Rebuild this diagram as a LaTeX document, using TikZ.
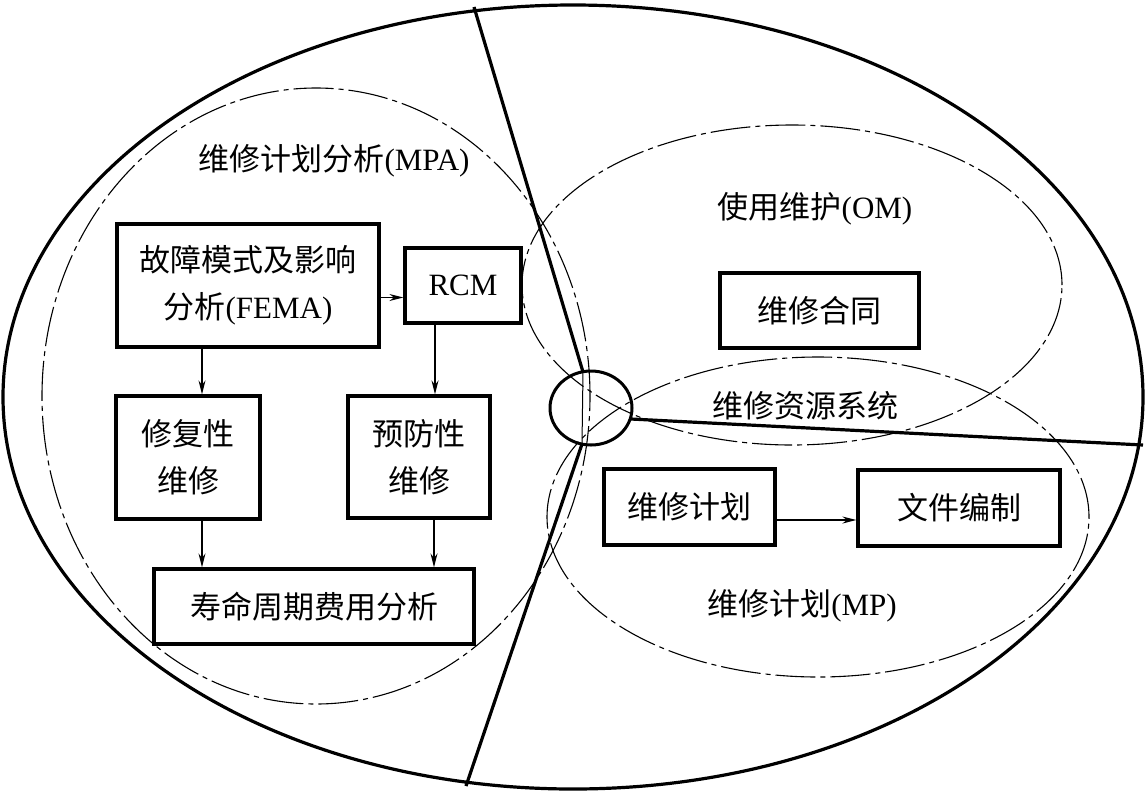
\documentclass[tikz,border=0pt]{standalone}
\usepackage{fontspec}
\setmainfont{Liberation Serif}
\newfontfamily\cjk{Noto Sans CJK SC}
\usetikzlibrary{arrows.meta}
\newcommand\zh[1]{{\cjk #1}}
\begin{document}
\begin{tikzpicture}[x=1pt,y=-1pt,
  box/.style={draw,line width=3.2pt,inner sep=0pt,align=center,font=\fontsize{31}{47}\selectfont},
  lbl/.style={inner sep=0pt,font=\fontsize{31}{47}\selectfont},
  conn/.style={line width=1.2pt,-{Stealth[length=14pt,width=7pt]}},
  region/.style={line width=1.1pt,dash pattern=on 40pt off 5pt on 5pt off 5pt},
  thick line/.style={line width=3.2pt},
  rim/.style={line width=3.2pt}]
\useasboundingbox (0,0) rectangle (1147,793);
% outer ellipse
\draw[rim] (573,397) ellipse [x radius=570pt, y radius=392pt];
% dash-dot regions
\draw[region] (316,396) ellipse [x radius=274pt, y radius=308pt];
\draw[region] (792,285) ellipse [x radius=270pt, y radius=160pt];
\draw[region] (818,517) ellipse [x radius=271pt, y radius=160pt];
% small circle
\draw[line width=3pt] (591,408) ellipse [x radius=41pt, y radius=37pt];
% separating lines
\coordinate (topA) at (474,7);
\coordinate (topB) at (583,372);
\coordinate (botA) at (582,444);
\coordinate (botB) at (466,786);
\coordinate (rA) at (631,419);
\coordinate (rB) at (1143,445);
\draw[thick line] (topA) -- (topB);
\draw[line width=1pt] (topB) -- (botA);
\draw[thick line] (botA) -- (botB);
\draw[thick line] (rA) -- (rB);
% boxes
\node[box,minimum width=262pt,minimum height=123pt] (fema) at (248,285.5) {\zh{故障模式及影响}\\\zh{分析}(FEMA)};
\node[box,minimum width=116pt,minimum height=75pt] (rcm) at (463,285.5) {RCM};
\node[box,minimum width=144pt,minimum height=123pt] (repair) at (188,457.5) {\zh{修复性}\\\zh{维修}};
\node[box,minimum width=142pt,minimum height=122pt] (prev) at (419,457) {\zh{预防性}\\\zh{维修}};
\node[box,minimum width=320pt,minimum height=75pt] (life) at (314,606.5) {\zh{寿命周期费用分析}};
\node[box,minimum width=199pt,minimum height=75pt] (contract) at (819.5,310.5) {\zh{维修合同}};
\node[box,minimum width=171pt,minimum height=76pt] (plan) at (689.5,507) {\zh{维修计划}};
\node[box,minimum width=202pt,minimum height=76pt] (doc) at (959,508) {\zh{文件编制}};
% labels
\node[lbl] (mpa) at (334,161) {\zh{维修计划分析}(MPA)};
\node[lbl] (om) at (815,209) {\zh{使用维护}(OM)};
\node[lbl] (res) at (805,406) {\zh{维修资源系统}};
\node[lbl] (mp) at (802,606) {\zh{维修计划}(MP)};
% arrows
\draw[conn] ([yshift=-12pt]fema.east) -- ([yshift=-12pt]rcm.west);
\draw[conn] ([xshift=14pt]repair.north |- fema.south) -- ([xshift=14pt]repair.north);
\draw[conn] ([xshift=16pt]prev.north |- rcm.south) -- ([xshift=16pt]prev.north);
\draw[conn] ([xshift=14pt]repair.south) -- ([xshift=14pt]repair.south |- life.north);
\draw[conn] ([xshift=15pt]prev.south) -- ([xshift=15pt]prev.south |- life.north);
\draw[conn] ([yshift=-13pt]plan.east) -- ([yshift=-13pt]plan.east -| doc.west);
\end{tikzpicture}
\end{document}
